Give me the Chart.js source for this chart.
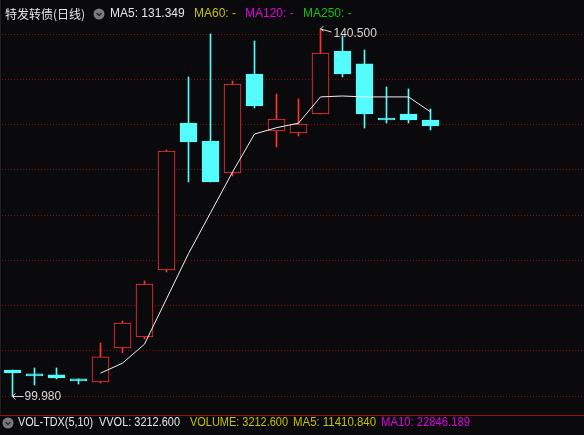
<!DOCTYPE html>
<html>
<head>
<meta charset="utf-8">
<script src="https://cdn.jsdelivr.net/npm/chart.js@4/dist/chart.umd.min.js"></script>
<style>
  html, body { margin: 0; padding: 0; background: #0a0a0c; }
  #wrap { width: 584px; height: 435px; position: relative; }
</style>
</head>
<body>
<div id="wrap"><canvas id="kline" width="584" height="435"></canvas></div>
<script>
// daily candles, 20 sessions
const days = ['D1','D2','D3','D4','D5','D6','D7','D8','D9','D10','D11','D12','D13','D14','D15','D16','D17','D18','D19','D20'];
const opens  = [102.85, 102.41, 102.30, 101.86, 101.52, 105.28, 106.49, 113.89, 130.12, 128.13, 124.60, 135.53, 129.24, 129.02, 131.11, 138.07, 136.64, 130.56, 131.11, 130.45];
const closes = [102.52, 102.19, 101.97, 101.64, 104.29, 108.04, 112.34, 127.03, 128.02, 123.61, 134.43, 132.00, 130.56, 130.01, 137.85, 135.53, 131.11, 130.45, 130.45, 129.79];
const highs  = [102.85, 103.07, 103.07, 101.86, 105.83, 108.26, 112.68, 127.14, 135.20, 139.95, 134.76, 139.18, 133.32, 132.77, 140.50, 139.73, 138.18, 134.10, 133.88, 131.67];
const lows   = [ 99.98, 101.19, 101.86, 101.30, 101.41, 104.73, 106.27, 113.67, 123.61, 123.61, 124.27, 131.78, 127.47, 128.69, 131.11, 135.20, 129.57, 130.12, 130.12, 129.35];
const ma5    = [null, null, null, null, 102.5, 103.6, 105.7, 110.7, 115.7, 120.2, 124.7, 128.9, 129.6, 130.1, 133.0, 133.1, 133.0, 133.0, 133.0, 131.349];
const gridLevels = [100, 105, 110, 115, 120, 125, 130, 135, 140];

const BG = '#0a0a0c';
const UP = '#ff3232';
const DOWN = '#54fcfc';

const isUp = closes.map((c, i) => c >= opens[i]);

const bodyData = days.map((d, i) => ({ x: i, y: [opens[i], closes[i]] }));
const wickData = days.map((d, i) => ({ x: i, y: [lows[i], highs[i]] }));
const maData = [];
ma5.forEach((v, i) => { if (v !== null) maData.push({ x: i, y: v }); });

const overlay = {
    id: 'overlay',
    beforeDatasetsDraw(chart) {
        const ctx = chart.ctx;
        const y = chart.scales.y;
        ctx.save();
        // dotted grid
        ctx.strokeStyle = '#8a0a0a';
        ctx.lineWidth = 1;
        ctx.setLineDash([1, 2]);
        gridLevels.forEach(v => {
            const py = Math.round(y.getPixelForValue(v)) + 0.5;
            ctx.beginPath();
            ctx.moveTo(2, py);
            ctx.lineTo(584, py);
            ctx.stroke();
        });
        ctx.setLineDash([]);
        // left border
        ctx.strokeStyle = '#202022';
        ctx.beginPath();
        ctx.moveTo(0.5, 0);
        ctx.lineTo(0.5, 415);
        ctx.stroke();
        ctx.restore();
    },
    afterDatasetsDraw(chart) {
        const ctx = chart.ctx;
        const xs = chart.scales.x;
        const ys = chart.scales.y;
        ctx.save();

        // max / min markers
        const hi = highs.indexOf(Math.max(...highs));
        const lo = lows.indexOf(Math.min(...lows));
        ctx.font = '12px "Liberation Sans", Arial, sans-serif';
        ctx.textBaseline = 'middle';
        ctx.strokeStyle = '#d8d8d8';
        ctx.fillStyle = '#d8d8d8';
        ctx.lineWidth = 1;

        let hx = Math.floor(xs.getPixelForValue(hi)) + 0.5, hy = ys.getPixelForValue(highs[hi]);
        ctx.beginPath();
        ctx.moveTo(hx, hy);
        ctx.lineTo(hx + 11, hy + 3);
        ctx.moveTo(hx, hy);
        ctx.lineTo(hx + 3, hy - 3);
        ctx.moveTo(hx, hy);
        ctx.lineTo(hx + 3, hy + 2);
        ctx.stroke();
        ctx.fillText(highs[hi].toFixed(3), hx + 13, hy + 5);

        let lx = Math.floor(xs.getPixelForValue(lo)) + 0.5, ly = Math.round(ys.getPixelForValue(lows[lo])) + 0.5;
        ctx.beginPath();
        ctx.moveTo(lx, ly);
        ctx.lineTo(lx + 11, ly);
        ctx.moveTo(lx, ly);
        ctx.lineTo(lx + 3, ly - 3);
        ctx.moveTo(lx, ly);
        ctx.lineTo(lx + 3, ly + 3);
        ctx.stroke();
        ctx.fillText(lows[lo].toFixed(3), lx + 12, ly);

        // separator with volume pane
        ctx.fillStyle = BG;
        ctx.fillRect(0, 416, 584, 19);
        ctx.strokeStyle = '#9a1010';
        ctx.beginPath();
        ctx.moveTo(0, 415.5);
        ctx.lineTo(584, 415.5);
        ctx.stroke();

        // legends
        const icon = (cx, cy) => {
            ctx.fillStyle = '#7c7c7c';
            ctx.beginPath();
            ctx.arc(cx, cy, 5.5, 0, Math.PI * 2);
            ctx.fill();
            ctx.strokeStyle = '#2a2a2a';
            ctx.lineWidth = 1.5;
            ctx.beginPath();
            ctx.moveTo(cx - 2.5, cy - 1);
            ctx.lineTo(cx, cy + 1.5);
            ctx.lineTo(cx + 2.5, cy - 1);
            ctx.stroke();
        };
        const txt = (s, x, yy, c, w) => { ctx.fillStyle = c; ctx.fillText(s, x, yy, w); };

        ctx.font = '12px "Noto Sans CJK SC", "Liberation Sans", sans-serif';
        txt('特发转债(日线)', 5, 14, '#e6e6e6', 82);
        icon(99, 14);
        ctx.font = '12px "Liberation Sans", Arial, sans-serif';
        txt('MA5: ' + ma5[ma5.length - 1].toFixed(3), 110, 14, '#e6e6e6', 78);
        txt('MA60: -', 194, 14, '#c8c000', 44);
        txt('MA120: -', 245, 14, '#e000e0', 52);
        txt('MA250: -', 303, 14, '#10c010', 50);

        icon(8, 423);
        txt('VOL-TDX(5,10)', 18, 423, '#e6e6e6', 75);
        txt('VVOL: 3212.600', 99, 423, '#e6e6e6', 81);
        txt('VOLUME: 3212.600', 190, 423, '#c8c000', 98);
        txt('MA5: 11410.840', 293, 423, '#c8c000', 83);
        txt('MA10: 22846.189', 381, 423, '#e000e0', 89);

        ctx.restore();
    }
};

new Chart(document.getElementById('kline'), {
    type: 'bar',
    data: {
        datasets: [
            {
                type: 'line',
                data: maData,
                borderColor: '#f0f0f0',
                borderWidth: 1,
                pointRadius: 0,
                tension: 0,
                order: 0
            },
            {
                data: bodyData,
                backgroundColor: isUp.map(u => u ? BG : DOWN),
                borderColor: isUp.map(u => u ? UP : DOWN),
                borderWidth: 1,
                borderSkipped: false,
                barThickness: 17,
                minBarLength: 2,
                grouped: false,
                order: 1
            },
            {
                data: wickData,
                backgroundColor: isUp.map(u => u ? UP : DOWN),
                borderWidth: 0,
                barThickness: 1,
                grouped: false,
                order: 2
            }
        ]
    },
    options: {
        responsive: false,
        animation: false,
        events: [],
        layout: { padding: 0 },
        plugins: { legend: { display: false }, tooltip: { enabled: false } },
        scales: {
            x: { type: 'linear', display: false, offset: false, min: -0.5682, max: 25.9773 },
            y: { type: 'linear', display: false, min: 95.67, max: 143.70 }
        }
    },
    plugins: [overlay]
});
</script>
</body>
</html>
